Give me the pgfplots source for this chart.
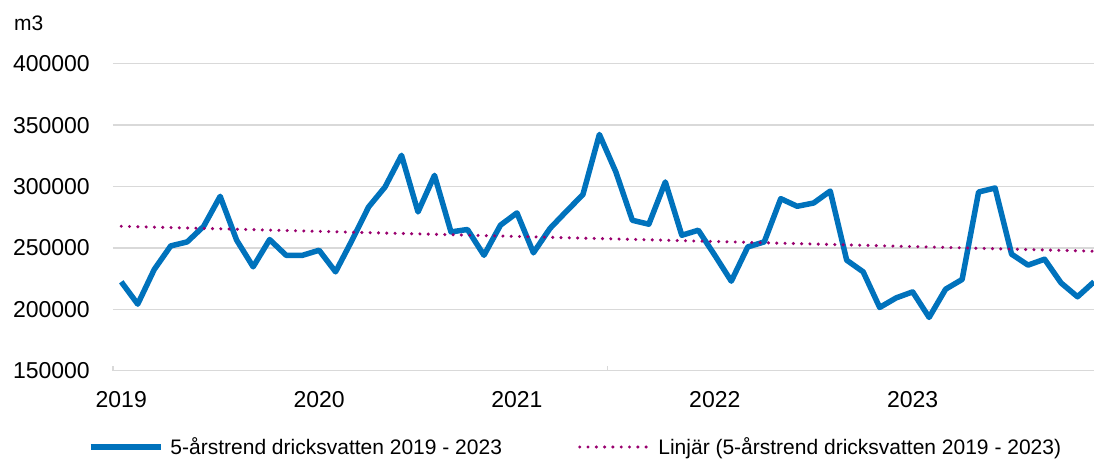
\documentclass[border=0pt]{standalone}
\usepackage{pgfplots}
\pgfplotsset{compat=1.18}
\usepackage{fontspec}
\setmainfont{Liberation Sans}
\definecolor{lineblue}{RGB}{0,114,188}
\definecolor{trendpurple}{RGB}{153,0,110}
\definecolor{gridgray}{RGB}{217,217,217}
\pgfplotstableread{
x y
0 222400
1 204200
2 232400
3 251600
4 254900
5 267600
6 292000
7 256300
8 234600
9 256800
10 244000
11 244000
12 248100
13 230500
14 256300
15 283300
16 299600
17 325400
18 279300
19 309100
20 263000
21 265000
22 244000
23 268500
24 278500
25 246000
26 265800
27 279800
28 293400
29 342400
30 311800
31 272500
32 269300
33 303700
34 260300
35 264400
36 244000
37 222900
38 250800
39 254900
40 290100
41 283900
42 286600
43 296300
44 240000
45 230500
46 201500
47 209300
48 214200
49 193400
50 216400
51 224300
52 295500
53 298800
54 244900
55 236000
56 240800
57 221500
58 210200
59 222400
}\datatable
\begin{document}
\begin{tikzpicture}
\useasboundingbox (-113pt,-88.3pt) rectangle (981pt,370.7pt);
\begin{axis}[
  at={(0pt,0pt)}, anchor=south west,
  scale only axis, width=981pt, height=307pt,
  xmin=-0.5, xmax=59, ymin=150000, ymax=400000,
  axis line style={draw=none},
  ytick={150000,200000,250000,300000,350000,400000},
  yticklabels={150000,200000,250000,300000,350000,400000},
  scaled y ticks=false,
  ymajorgrids, grid style={gridgray, line width=1.3pt},
  major tick length=0pt,
  xtick pos=lower, ytick pos=left,
  xtick={0,12,24,36,48},
  xticklabels={2019,2020,2021,2022,2023},
  extra x ticks={-0.5,29.5},
  extra x tick labels={\empty,\empty},
  extra x tick style={major tick length=5pt, tick align=inside, tick style={gridgray, line width=1.3pt}, grid=none},
  yticklabel style={font=\fontsize{23}{23}\selectfont, anchor=east, inner sep=0pt, xshift=-23pt},
  xticklabel style={font=\fontsize{23}{23}\selectfont, anchor=north, inner sep=0pt, yshift=-21pt},
  legend columns=2,
  legend style={at={(-0.0255,-0.2485)}, anchor=west, draw=none, fill=none,
    inner sep=0pt, outer sep=0pt, nodes={inner sep=0pt},
    font=\fontsize{21}{21}\selectfont,
    column sep=7pt,
    /tikz/every even column/.append style={column sep=76pt}},
  legend image code/.code={\draw[#1] (0pt,0pt) -- (70pt,0pt);},
]
\addplot[lineblue, line width=5.5pt, line join=round] table[x=x,y=y]{\datatable};
\addlegendentry{5-årstrend dricksvatten 2019 - 2023}
\addplot[trendpurple, line width=3.4pt, line cap=round, dash pattern=on 0pt off 8.3pt] coordinates {(0,267600) (59,247300)};
\addlegendentry{Linjär (5-årstrend dricksvatten 2019 - 2023)}
\end{axis}
\node[anchor=base west, inner sep=0pt, font=\fontsize{21}{21}\selectfont] at (-99pt,340.7pt) {m3};
\end{tikzpicture}
\end{document}
